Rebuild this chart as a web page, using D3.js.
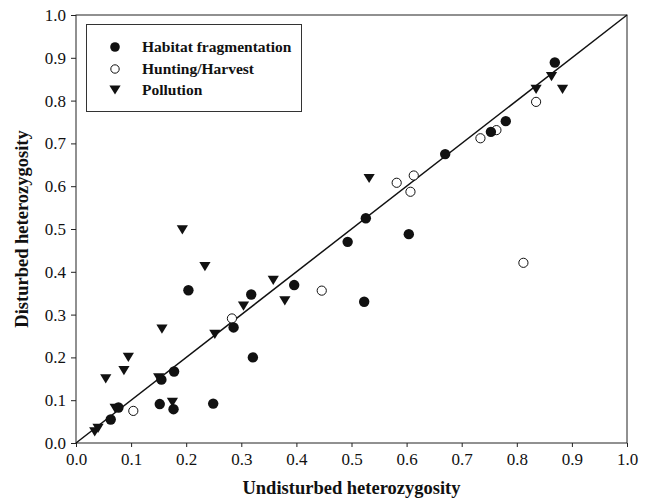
<!DOCTYPE html>
<html>
<head>
<meta charset="utf-8">
<script src="https://cdn.jsdelivr.net/npm/d3@7"></script>
<style>
  body { margin: 0; background: #fff; }
  svg text { font-family: "Liberation Serif", "Times New Roman", serif; }
</style>
</head>
<body>
<div id="wrapper"></div>
<script>
// points: [undisturbed, disturbed]
const habitat = [
    [0.063, 0.055], [0.077, 0.083], [0.152, 0.091], [0.155, 0.148], [0.177, 0.079],
    [0.178, 0.167], [0.204, 0.357], [0.249, 0.092], [0.286, 0.270], [0.318, 0.347],
    [0.321, 0.200], [0.396, 0.369], [0.493, 0.470], [0.523, 0.330], [0.526, 0.525],
    [0.604, 0.488], [0.670, 0.675], [0.753, 0.727], [0.780, 0.752], [0.869, 0.889]
];
const hunting = [
    [0.104, 0.075], [0.283, 0.291], [0.446, 0.356], [0.582, 0.608], [0.607, 0.587],
    [0.613, 0.625], [0.734, 0.712], [0.763, 0.731], [0.812, 0.421], [0.835, 0.797]
];
const pollution = [
    [0.034, 0.026], [0.040, 0.034], [0.054, 0.150], [0.071, 0.081], [0.087, 0.169],
    [0.095, 0.200], [0.150, 0.152], [0.156, 0.266], [0.175, 0.095], [0.193, 0.498],
    [0.234, 0.412], [0.252, 0.254], [0.304, 0.320], [0.358, 0.380], [0.379, 0.332],
    [0.532, 0.618], [0.835, 0.826], [0.863, 0.856], [0.883, 0.826]
];
const ticks = [0, 0.1, 0.2, 0.3, 0.4, 0.5, 0.6, 0.7, 0.8, 0.9, 1.0];
const legendLabels = ["Habitat fragmentation", "Hunting/Harvest", "Pollution"];

function buildPlot() {
    const dimention = {
        width: 648,
        height: 500,
        margin: { top: 15, left: 76, bottom: 57, right: 21 }
    };
    dimention.boundedWidth = dimention.width - dimention.margin.left - dimention.margin.right;
    dimention.boundedHeight = dimention.height - dimention.margin.top - dimention.margin.bottom;

    const svg = d3.select("#wrapper").append("svg")
        .attr("width", dimention.width)
        .attr("height", dimention.height);

    const bounded = svg.append("g")
        .attr("transform", `translate(${dimention.margin.left},${dimention.margin.top})`);

    const xScaler = d3.scaleLinear().domain([0, 1]).range([0, dimention.boundedWidth]);
    const yScaler = d3.scaleLinear().domain([0, 1]).range([dimention.boundedHeight, 0]);

    // axes
    const xAxis = bounded.append("g")
        .attr("transform", `translate(0,${dimention.boundedHeight})`)
        .call(d3.axisBottom(xScaler).tickValues(ticks).tickFormat(d3.format(".1f")).tickSize(4).tickPadding(6));
    const yAxis = bounded.append("g")
        .call(d3.axisLeft(yScaler).tickValues(ticks).tickFormat(d3.format(".1f")).tickSize(5).tickPadding(5));
    [xAxis, yAxis].forEach(a => {
        a.select(".domain").remove();
        a.attr("font-size", 17);
        a.selectAll("text").attr("fill", "#111")
            .style("font-family", "'Liberation Serif', serif");
        a.selectAll("line").attr("stroke", "#222");
    });

    // frame
    bounded.append("rect")
        .attr("width", dimention.boundedWidth)
        .attr("height", dimention.boundedHeight)
        .attr("fill", "none")
        .attr("stroke", "#222")
        .attr("stroke-width", 1);

    // 1:1 line
    bounded.append("line")
        .attr("x1", xScaler(0)).attr("y1", yScaler(0))
        .attr("x2", xScaler(1)).attr("y2", yScaler(1))
        .attr("stroke", "#111")
        .attr("stroke-width", 1.5);

    const triPath = (cx, cy) => {
        const w = 5.6, h = 4.6;
        return `M${cx - w},${cy - h}L${cx + w},${cy - h}L${cx},${cy + h}Z`;
    };

    bounded.append("g").selectAll("circle")
        .data(hunting).join("circle")
        .attr("cx", d => xScaler(d[0]))
        .attr("cy", d => yScaler(d[1]))
        .attr("r", 4.6)
        .attr("fill", "#fff")
        .attr("stroke", "#111")
        .attr("stroke-width", 1);

    bounded.append("g").selectAll("path")
        .data(pollution).join("path")
        .attr("d", d => triPath(xScaler(d[0]), yScaler(d[1])))
        .attr("fill", "#111");

    bounded.append("g").selectAll("circle")
        .data(habitat).join("circle")
        .attr("cx", d => xScaler(d[0]))
        .attr("cy", d => yScaler(d[1]))
        .attr("r", 5.2)
        .attr("fill", "#111");

    // legend
    const legend = svg.append("g");
    legend.append("rect")
        .attr("x", 86.5).attr("y", 24.5)
        .attr("width", 215).attr("height", 87)
        .attr("fill", "#fff")
        .attr("stroke", "#333")
        .attr("stroke-width", 1);
    const rowY = [47, 69, 90];
    legend.append("circle").attr("cx", 115).attr("cy", rowY[0]).attr("r", 4.8).attr("fill", "#111");
    legend.append("circle").attr("cx", 115).attr("cy", rowY[1]).attr("r", 4.2)
        .attr("fill", "#fff").attr("stroke", "#111").attr("stroke-width", 1);
    legend.append("path").attr("d", triPath(115, rowY[2])).attr("fill", "#111");
    legend.selectAll("text")
        .data(legendLabels).join("text")
        .attr("x", 142)
        .attr("y", (d, i) => rowY[i] + 5)
        .attr("font-size", 15.5)
        .attr("font-weight", "bold")
        .attr("fill", "#111")
        .text(d => d);

    // axis titles
    svg.append("text")
        .attr("x", dimention.margin.left + dimention.boundedWidth / 2)
        .attr("y", 494)
        .attr("text-anchor", "middle")
        .attr("font-size", 18.5)
        .attr("font-weight", "bold")
        .attr("fill", "#111")
        .text("Undisturbed heterozygosity");

    svg.append("text")
        .attr("transform", `translate(28,${dimention.margin.top + dimention.boundedHeight / 2}) rotate(-90)`)
        .attr("text-anchor", "middle")
        .attr("font-size", 18.5)
        .attr("font-weight", "bold")
        .attr("fill", "#111")
        .text("Disturbed heterozygosity");
}

buildPlot();
</script>
</body>
</html>
